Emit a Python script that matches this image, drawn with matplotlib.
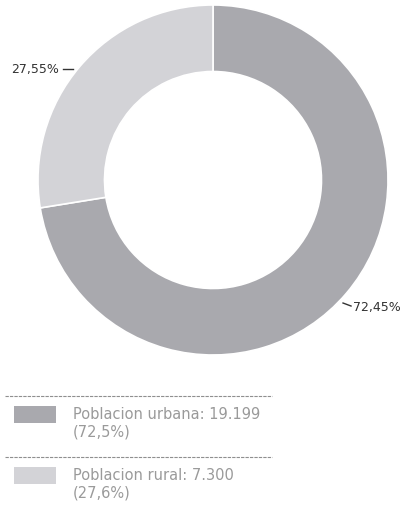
import matplotlib.pyplot as plt
from matplotlib.patches import Rectangle
from matplotlib.lines import Line2D
import numpy as np

# data
categories = ["Poblacion urbana", "Poblacion rural"]
values = [19199, 7300]
pct_labels = ["72,45%", "27,55%"]
legend_values = ["19.199", "7.300"]
legend_pcts = ["72,5%", "27,6%"]
colors = ["#a9a9ae", "#d3d3d7"]

W, H = 411, 510
fig = plt.figure(figsize=(W / 100, H / 100), dpi=100)
ax = fig.add_axes([0, 0, 1, 1])

cx, cy, r = 213, H - 181, 175
wedges, _ = ax.pie(values, colors=colors, startangle=90, counterclock=False,
                   radius=r, center=(cx, cy), frame=True,
                   wedgeprops=dict(width=r * 0.38, edgecolor="white", linewidth=1.2))
ax.set_xlim(0, W)
ax.set_ylim(0, H)
ax.set_aspect("equal")
ax.axis("off")

# percentage labels outside the ring
for w, txt in zip(wedges, pct_labels):
    mid = (w.theta1 + w.theta2) / 2
    left = np.cos(np.deg2rad(mid)) < 0
    ang = np.deg2rad(mid + (2 if left else -3))
    x0 = cx + (r + 4) * np.cos(ang)
    y0 = cy + (r + 4) * np.sin(ang)
    if left:
        ax.plot([x0 - 10, x0], [y0, y0], color="#333333", lw=1.0)
        ax.text(x0 - 14, y0, txt, ha="right", va="center", fontsize=9,
                color="#333333")
    else:
        ax.plot([x0, x0 + 8], [y0, y0 - 3], color="#333333", lw=1.0)
        ax.text(x0 + 10, y0 - 3, txt, ha="left", va="center", fontsize=9,
                color="#333333")

# legend block
def px(x, y):
    return x / W, 1 - y / H

sep_y = [397, 458]
for y in sep_y:
    fig.add_artist(Line2D([px(5, y)[0], px(272, y)[0]], [px(5, y)[1]] * 2,
                          color="#8f8f8f", lw=0.8, linestyle=(0, (3, 1))))

rows_y = [407, 468]
for i, (cat, v, p) in enumerate(zip(categories, legend_values, legend_pcts)):
    y = rows_y[i]
    x0, y0 = px(14, y + 17)
    fig.add_artist(Rectangle((x0, y0), 42 / W, 17 / H, transform=fig.transFigure,
                             facecolor=colors[i], edgecolor="none"))
    tx, ty = px(73, y + 8)
    fig.text(tx, ty, f"{cat}: {v}", fontsize=10.5, color="#9a9a9a",
             va="center", ha="left")
    tx, ty = px(73, y + 25)
    fig.text(tx, ty, f"({p})", fontsize=10.5, color="#9a9a9a",
             va="center", ha="left")

fig.savefig("out.png", dpi=100)
